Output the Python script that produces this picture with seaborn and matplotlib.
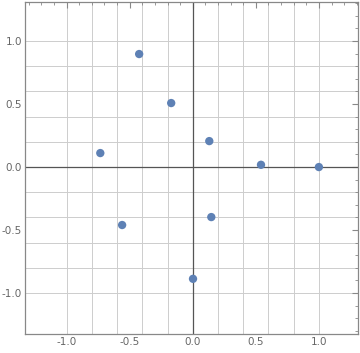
import matplotlib
matplotlib.use("Agg")
import matplotlib.pyplot as plt
import seaborn as sns
import numpy as np
import pandas as pd
from matplotlib.ticker import MultipleLocator

xs = [-0.733, -0.425, -0.171, 0.131, 0.541, 1.0, -0.560, 0.147, 0.002]
ys = [0.111, 0.897, 0.508, 0.206, 0.018, 0.0, -0.460, -0.397, -0.887]
xticks = [-1.0, -0.5, 0.0, 0.5, 1.0]
yticks = [-1.0, -0.5, 0.0, 0.5, 1.0]
grid_vals = [-1.0, -0.8, -0.6, -0.4, -0.2, 0.0, 0.2, 0.4, 0.6, 0.8, 1.0]

df = pd.DataFrame({"x": xs, "y": ys})

sns.set_theme(style="white")
plt.rcParams['font.family'] = ['DejaVu Sans']
plt.rcParams['axes.unicode_minus'] = False

fig = plt.figure(figsize=(3.6, 3.53), dpi=100)
ax = fig.add_axes([25/360, 19/353, 333/360, 332/353])

for g in grid_vals:
    ax.axvline(g, color="#cdcdcd", lw=0.7, zorder=0)
    ax.axhline(g, color="#cdcdcd", lw=0.7, zorder=0)
ax.axvline(0, color="#555555", lw=0.9, zorder=1)
ax.axhline(0, color="#555555", lw=0.9, zorder=1)

sns.scatterplot(data=df, x="x", y="y", ax=ax, color="#5E81B5", s=36,
                edgecolor="none", zorder=3, legend=False)

ax.set_xlim(-1.33, 1.31)
ax.set_ylim(-1.325, 1.31)
ax.set_xticks(xticks)
ax.set_yticks(yticks)
ax.set_xticklabels([f"{v:.1f}" for v in xticks])
ax.set_yticklabels([f"{v:.1f}" for v in yticks])
ax.xaxis.set_minor_locator(MultipleLocator(0.1))
ax.yaxis.set_minor_locator(MultipleLocator(0.1))
ax.tick_params(which="major", direction="in", length=4, width=0.8, color="#888888",
               labelsize=7.5, labelcolor="#666666", top=True, right=True,
               labeltop=False, labelright=False, pad=2)
ax.tick_params(which="minor", direction="in", length=2, width=0.6, color="#888888",
               top=True, right=True)
for sp in ax.spines.values():
    sp.set_color("#888888")
    sp.set_linewidth(0.9)
ax.set_xlabel("")
ax.set_ylabel("")

fig.savefig("out.png", dpi=100)
